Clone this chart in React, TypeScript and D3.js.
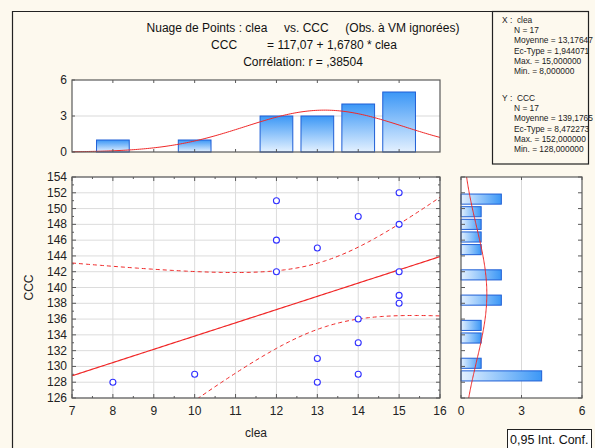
import React from 'react';
import * as d3 from 'd3';

// ---- data ----
const cleaValues = [8, 10, 12, 12, 12, 13, 13, 13, 14, 14, 14, 14, 15, 15, 15, 15, 15];
const cccValues = [128, 129, 151, 146, 142, 145, 131, 128, 149, 136, 133, 129, 152, 148, 142, 139, 138];
const cleaBinCenters = [8, 9, 10, 11, 12, 13, 14, 15];
const cleaBinCounts = [1, 0, 1, 0, 3, 3, 4, 5];
const cccBinStarts = [128, 129.6, 131.2, 132.8, 134.4, 136, 137.6, 139.2, 140.8, 142.4, 144, 145.6, 147.2, 148.8, 150.4];
const cccBinCounts = [4, 1, 0, 1, 1, 0, 2, 0, 2, 0, 1, 1, 1, 1, 2];
const cccBinWidth = 1.6;
const cleaBinWidth = 1;
const xTicks = [7, 8, 9, 10, 11, 12, 13, 14, 15, 16];
const yTicks = [126, 128, 130, 132, 134, 136, 138, 140, 142, 144, 146, 148, 150, 152, 154];
const histTicks = [0, 3, 6];
const titleLines = [
  'Nuage de Points : clea     vs. CCC     (Obs. à VM ignorées)',
  'CCC         = 117,07 + 1,6780 * clea',
  'Corrélation: r = ,38504',
];
const statsXLines = ['X :  clea', 'N = 17', 'Moyenne = 13,17647', 'Ec-Type = 1,944071', 'Max. = 15,000000', 'Min. = 8,000000'];
const statsYLines = ['Y :  CCC', 'N = 17', 'Moyenne = 139,1765', 'Ec-Type = 8,472273', 'Max. = 152,000000', 'Min. = 128,000000'];
const tCrit = 2.1314; // t(0.975, 15)

// ---- layout ----
const W = 595, H = 448;
const SX0 = 72, SX1 = 440, SY0 = 177, SY1 = 398;
const HY0 = 80, HY1 = 152;
const RX0 = 461, RX1 = 582;
const BG = '#fdf9ee';
const FONT = 'Liberation Sans, Arial, sans-serif';
const RED = '#f02828';
const BORDER = '#5a5a5a';
const nb = (t: string) => t.replace(/ /g, '\u00a0');

export default function App() {
  const x = d3.scaleLinear().domain([7, 16]).range([SX0, SX1]);
  const y = d3.scaleLinear().domain([126, 154]).range([SY1, SY0]);
  const hy = d3.scaleLinear().domain([0, 6]).range([HY1, HY0]);
  const rx = d3.scaleLinear().domain([0, 6]).range([RX0, RX1]);

  const n = cleaValues.length;
  const mx = d3.mean(cleaValues)!;
  const my = d3.mean(cccValues)!;
  const sdx = d3.deviation(cleaValues)!;
  const sdy = d3.deviation(cccValues)!;
  const sxx = d3.sum(cleaValues, (v) => (v - mx) ** 2);
  const sxy = d3.sum(cleaValues, (v, i) => (v - mx) * (cccValues[i] - my));
  const slope = sxy / sxx;
  const intercept = my - slope * mx;
  const sse = d3.sum(cleaValues, (v, i) => (cccValues[i] - (intercept + slope * v)) ** 2);
  const s = Math.sqrt(sse / (n - 2));

  const xs = d3.range(0, 181).map((i) => 7 + (9 * i) / 180);
  const band = (sign: number) =>
    xs.map((v) => [v, intercept + slope * v + sign * tCrit * s * Math.sqrt(1 / n + (v - mx) ** 2 / sxx)] as [number, number]);
  const line = d3.line<[number, number]>().x((d) => x(d[0])).y((d) => y(d[1]));

  const pdf = (v: number, m: number, sd: number) => Math.exp(-0.5 * ((v - m) / sd) ** 2) / (sd * Math.sqrt(2 * Math.PI));
  const topCurve = xs.map((v) => [x(v), hy(n * cleaBinWidth * pdf(v, mx, sdx))] as [number, number]);
  const ys = d3.range(0, 181).map((i) => 126 + (28 * i) / 180);
  const rightCurve = ys.map((v) => [rx(n * cccBinWidth * pdf(v, my, sdy)), y(v)] as [number, number]);
  const raw = d3.line<[number, number]>();

  const minorX = d3.range(7, 16.01, 0.5);
  const minorY = d3.range(126, 154.01, 1);

  return (
    <svg width={W} height={H} style={{ position: 'fixed', left: 0, top: 0, background: BG }} fontFamily={FONT}>
      <defs>
        <linearGradient id="gv" x1="0" y1="0" x2="0" y2="1">
          <stop offset="0" stopColor="#3b97f6" />
          <stop offset="1" stopColor="#e4f1ff" />
        </linearGradient>
        <linearGradient id="gh" x1="0" y1="0" x2="1" y2="0">
          <stop offset="0" stopColor="#e4f1ff" />
          <stop offset="1" stopColor="#3b97f6" />
        </linearGradient>
        <clipPath id="cs"><rect x={SX0} y={SY0} width={SX1 - SX0} height={SY1 - SY0} /></clipPath>
        <clipPath id="ct"><rect x={SX0} y={HY0} width={SX1 - SX0} height={HY1 - HY0 + 1} /></clipPath>
        <clipPath id="cr"><rect x={RX0 - 1} y={SY0} width={RX1 - RX0 + 1} height={SY1 - SY0} /></clipPath>
      </defs>
      <rect x={0} y={0} width={W} height={H} fill={BG} />
      {/* frame */}
      <path d={`M12.5,${H} V11.5 H492.5`} fill="none" stroke="#222" strokeWidth={1.2} />

      {/* title */}
      <g fontSize={12} fill="#111" textAnchor="middle">
        <text x={303} y={32}>{nb(titleLines[0])}</text>
        <text x={304} y={49}>{nb(titleLines[1])}</text>
        <text x={303} y={66}>{nb(titleLines[2])}</text>
      </g>

      {/* stats box */}
      <rect x={492.5} y={11.5} width={96} height={152.5} fill={BG} stroke="#222" strokeWidth={1.2} />
      <g fontSize={8.4} fill="#222">
        {statsXLines.map((t, i) => (
          <text key={'sx' + i} x={i === 0 ? 502 : 514} y={23 + i * 10.2}>{nb(t)}</text>
        ))}
        {statsYLines.map((t, i) => (
          <text key={'sy' + i} x={i === 0 ? 502 : 514} y={101 + i * 10.2}>{nb(t)}</text>
        ))}
      </g>

      {/* top histogram */}
      <rect x={SX0} y={HY0} width={SX1 - SX0} height={HY1 - HY0} fill="#fff" />
      <line x1={SX0} x2={SX1} y1={hy(3)} y2={hy(3)} stroke="#d9d9d9" />
      {cleaBinCenters.map((c, i) =>
        cleaBinCounts[i] > 0 ? (
          <rect key={'tb' + i} x={x(c - 0.4 * cleaBinWidth)} y={hy(cleaBinCounts[i])}
            width={x(c + 0.4 * cleaBinWidth) - x(c - 0.4 * cleaBinWidth)} height={hy(0) - hy(cleaBinCounts[i])}
            fill="url(#gv)" stroke="#1f5fd6" strokeWidth={1} />
        ) : null
      )}
      <path d={raw(topCurve)!} fill="none" stroke={RED} strokeWidth={1} clipPath="url(#ct)" />
      {xTicks.slice(1, -1).map((t) => (
        <g key={'tt' + t} stroke={BORDER}>
          <line x1={x(t)} x2={x(t)} y1={HY0} y2={HY0 + 3} />
          <line x1={x(t)} x2={x(t)} y1={HY1} y2={HY1 - 3} />
        </g>
      ))}
      {histTicks.map((t) => (
        <g key={'ht' + t}>
          <line x1={SX0} x2={SX0 + 3} y1={hy(t)} y2={hy(t)} stroke={BORDER} />
          <text x={67} y={hy(t) + 4} fontSize={12} textAnchor="end" fill="#222">{t}</text>
        </g>
      ))}
      <rect x={SX0} y={HY0} width={SX1 - SX0} height={HY1 - HY0} fill="none" stroke={BORDER} strokeWidth={1.2} />

      {/* scatter */}
      <rect x={SX0} y={SY0} width={SX1 - SX0} height={SY1 - SY0} fill="#fff" />
      {yTicks.map((t) => (
        <line key={'gy' + t} x1={SX0} x2={SX1} y1={y(t)} y2={y(t)} stroke="#dcdcdc" />
      ))}
      {xTicks.map((t) => (
        <line key={'gx' + t} x1={x(t)} x2={x(t)} y1={SY0} y2={SY1} stroke="#dcdcdc" />
      ))}
      {minorX.map((t, i) => (
        <g key={'mx' + i} stroke={BORDER}>
          <line x1={x(t)} x2={x(t)} y1={SY1} y2={SY1 - (t % 1 === 0 ? 4 : 2)} />
          <line x1={x(t)} x2={x(t)} y1={SY0} y2={SY0 + (t % 1 === 0 ? 4 : 2)} />
        </g>
      ))}
      {minorY.map((t, i) => (
        <g key={'my' + i} stroke={BORDER}>
          <line x1={SX0} x2={SX0 + (t % 2 === 0 ? 4 : 2)} y1={y(t)} y2={y(t)} />
          <line x1={SX1} x2={SX1 - (t % 2 === 0 ? 4 : 2)} y1={y(t)} y2={y(t)} />
        </g>
      ))}
      <g clipPath="url(#cs)" fill="none" stroke={RED} strokeWidth={1}>
        <path d={line(xs.map((v) => [v, intercept + slope * v] as [number, number]))!} strokeWidth={1.2} />
        <path d={line(band(1))!} strokeDasharray="4,3" />
        <path d={line(band(-1))!} strokeDasharray="4,3" />
      </g>
      {cleaValues.map((v, i) => (
        <circle key={'p' + i} cx={x(v)} cy={y(cccValues[i])} r={3} fill="#fff" stroke="#3030ff" strokeWidth={1.1} />
      ))}
      <rect x={SX0} y={SY0} width={SX1 - SX0} height={SY1 - SY0} fill="none" stroke={BORDER} strokeWidth={1.2} />
      {yTicks.map((t) => (
        <text key={'yl' + t} x={67} y={y(t) + 4} fontSize={12} textAnchor="end" fill="#222">{t}</text>
      ))}
      {xTicks.map((t) => (
        <text key={'xl' + t} x={x(t)} y={415} fontSize={12} textAnchor="middle" fill="#222">{t}</text>
      ))}
      <text x={256} y={437} fontSize={12} textAnchor="middle" fill="#222">clea</text>
      <text transform={`translate(33,${(SY0 + SY1) / 2}) rotate(-90)`} fontSize={12} textAnchor="middle" fill="#222">CCC</text>

      {/* right histogram */}
      <rect x={RX0} y={SY0} width={RX1 - RX0} height={SY1 - SY0} fill="#fff" />
      <line x1={rx(3)} x2={rx(3)} y1={SY0} y2={SY1} stroke="#d9d9d9" />
      {cccBinStarts.map((b, i) =>
        cccBinCounts[i] > 0 ? (
          <rect key={'rb' + i} x={rx(0)} y={y(b + cccBinWidth * 0.9)}
            width={rx(cccBinCounts[i]) - rx(0)} height={y(b + cccBinWidth * 0.1) - y(b + cccBinWidth * 0.9)}
            fill="url(#gh)" stroke="#1f5fd6" strokeWidth={1} />
        ) : null
      )}
      <path d={raw(rightCurve)!} fill="none" stroke={RED} strokeWidth={1} clipPath="url(#cr)" />
      {yTicks.map((t) => (
        <g key={'ry' + t} stroke={BORDER}>
          <line x1={RX0} x2={RX0 + 4} y1={y(t)} y2={y(t)} />
          <line x1={RX1} x2={RX1 - 4} y1={y(t)} y2={y(t)} />
        </g>
      ))}
      {histTicks.map((t) => (
        <g key={'rt' + t}>
          <line x1={rx(t)} x2={rx(t)} y1={SY0} y2={SY0 + 3} stroke={BORDER} />
          <line x1={rx(t)} x2={rx(t)} y1={SY1} y2={SY1 - 3} stroke={BORDER} />
          <text x={rx(t)} y={415} fontSize={12} textAnchor="middle" fill="#222">{t}</text>
        </g>
      ))}
      <rect x={RX0} y={SY0} width={RX1 - RX0} height={SY1 - SY0} fill="none" stroke={BORDER} strokeWidth={1.2} />

      {/* confidence label */}
      <rect x={507.5} y={429.5} width={84} height={22} fill="#fff" stroke="#222" strokeWidth={1} />
      <text x={510} y={444} fontSize={12.5} fill="#111">0,95 Int. Conf.</text>
    </svg>
  );
}
